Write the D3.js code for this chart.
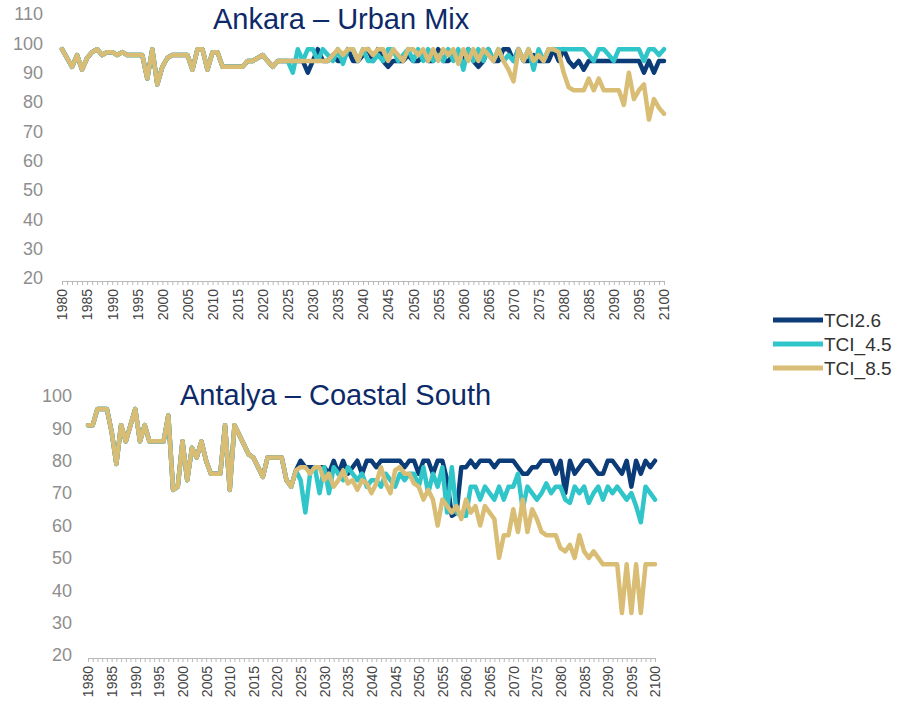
<!DOCTYPE html>
<html>
<head>
<meta charset="utf-8">
<script src="https://cdn.jsdelivr.net/npm/d3@7"></script>
<style>
  body { margin: 0; background: #fff; }
  svg { display: block; font-family: "Liberation Sans", Arial, sans-serif; }
</style>
</head>
<body>
<div id="chart"></div>
<script>
// years on the x axis
const startYear = 1980;
const endYear = 2100;
const yearTicks = d3.range(startYear, endYear + 1);

const seriesNames = ["TCI2.6", "TCI_4.5", "TCI_8.5"];
const seriesColors = ["#0c3c78", "#2fc5c9", "#d9bd74"];

// Ankara: observed part shared by all scenarios (1980-2024)
const ankaraHist = [98, 95, 92, 96, 91, 95, 97, 98, 96, 97, 97, 96, 97, 96, 96,
  96, 96, 88, 98, 86, 92, 95, 96, 96, 96, 96, 91, 98, 98, 91,
  97, 97, 92, 92, 92, 92, 92, 94, 94, 95, 96, 94, 92, 94, 94];
// Ankara scenarios 2025-2100
const ankara26 = [94, 94, 94, 94, 90, 94, 98, 94, 94, 96, 94, 94, 98, 94, 94,
  96, 98, 94, 98, 94, 92, 94, 94, 94, 96, 94, 94, 96, 94, 94,
  98, 94, 94, 96, 94, 94, 98, 94, 92, 94, 98, 94, 94, 98, 98,
  94, 98, 94, 94, 96, 94, 94, 94, 98, 94, 98, 94, 92, 94, 91,
  94, 94, 94, 94, 94, 94, 94, 94, 94, 94, 94, 90, 94, 90, 94, 94];
const ankara45 = [94, 90, 98, 94, 98, 98, 94, 98, 96, 94, 98, 93, 98, 98, 94,
  98, 94, 94, 96, 94, 98, 98, 94, 96, 98, 94, 98, 94, 98, 94,
  96, 94, 98, 94, 98, 91, 98, 94, 98, 94, 98, 94, 98, 94, 96,
  94, 98, 94, 98, 91, 98, 94, 98, 98, 98, 98, 98, 98, 98, 98,
  96, 94, 98, 98, 96, 94, 98, 98, 98, 98, 98, 94, 98, 98, 96, 98];
const ankara85 = [94, 94, 94, 94, 94, 94, 94, 94, 94, 96, 98, 96, 98, 98, 94,
  98, 98, 96, 98, 98, 94, 98, 96, 94, 98, 98, 96, 98, 94, 98,
  94, 98, 96, 98, 93, 98, 94, 98, 94, 98, 96, 94, 98, 94, 91,
  87, 98, 94, 98, 94, 96, 94, 98, 98, 97, 90, 85, 84, 84, 84,
  88, 84, 88, 84, 84, 84, 84, 79, 90, 81, 84, 86, 74, 81, 78, 76];

// Antalya: observed part shared by all scenarios (1980-2024)
const antalyaHist = [91, 91, 96, 96, 96, 89, 79, 91, 86, 91, 96, 86, 91, 86, 86,
  86, 86, 94, 71, 72, 86, 74, 84, 81, 86, 80, 76, 76, 76, 91,
  71, 91, 88, 85, 82, 81, 78, 75, 81, 81, 81, 81, 74, 72, 77];
// Antalya scenarios 2025-2100
const antalya26 = [80, 78, 78, 78, 78, 78, 76, 80, 76, 80, 76, 78, 80, 76, 80,
  80, 78, 80, 80, 80, 80, 80, 78, 80, 80, 76, 80, 80, 76, 80,
  80, 74, 63, 64, 78, 78, 80, 78, 80, 80, 80, 78, 80, 80, 80,
  80, 78, 76, 76, 78, 78, 80, 80, 80, 76, 80, 70, 80, 76, 78,
  80, 80, 78, 76, 76, 80, 80, 78, 76, 80, 72, 80, 76, 80, 78, 80];
const antalya45 = [74, 64, 76, 78, 70, 78, 70, 78, 76, 74, 78, 76, 74, 76, 72,
  74, 74, 72, 76, 74, 72, 76, 74, 76, 76, 72, 78, 70, 76, 72,
  78, 64, 78, 64, 63, 63, 72, 72, 68, 72, 70, 68, 72, 68, 72,
  72, 76, 65, 72, 70, 68, 70, 73, 70, 72, 72, 68, 67, 72, 70,
  72, 67, 70, 72, 68, 72, 70, 72, 70, 68, 70, 66, 61, 72, 70, 68];
const antalya85 = [78, 78, 76, 78, 78, 74, 76, 72, 74, 77, 73, 74, 71, 74, 73,
  70, 73, 78, 73, 70, 77, 78, 76, 76, 73, 72, 68, 71, 68, 60,
  68, 66, 64, 66, 62, 68, 64, 66, 60, 66, 64, 62, 50, 57, 57,
  65, 58, 68, 58, 65, 62, 58, 57, 57, 57, 53, 52, 54, 50, 57,
  52, 50, 52, 50, 48, 48, 48, 48, 33, 48, 33, 48, 33, 48, 48, 48];

const yTicksTop = d3.range(20, 111, 10);
const yTicksBottom = d3.range(20, 101, 10);

const width = 903, height = 705;

const svg = d3.select("#chart").append("svg")
  .attr("width", width)
  .attr("height", height);

function drawPanel(p) {
  const x = d3.scaleLinear().domain([startYear, endYear]).range([p.left, p.right]);
  const y = d3.scaleLinear().domain([20, p.yMax]).range([p.bottom, p.top]);

  const g = svg.append("g");

  // y labels only, no axis line
  const yAxis = g.append("g")
    .attr("transform", "translate(" + p.yLabelX + ",0)")
    .call(d3.axisLeft(y).tickValues(p.yTicks).tickSize(0).tickPadding(0));
  yAxis.select(".domain").remove();
  yAxis.selectAll("text")
    .attr("fill", "#8e8e8e")
    .style("font-size", "18px")
    .style("font-family", "'Liberation Sans', Arial, sans-serif");

  // x axis with a tick every year, a label every 5 years
  const xAxis = g.append("g")
    .attr("transform", "translate(0," + (p.bottom + 3) + ")")
    .call(d3.axisBottom(x)
      .tickValues(yearTicks)
      .tickSize(4)
      .tickSizeOuter(0)
      .tickFormat(function(d) { return d % 5 === 0 ? d : ""; }));
  xAxis.select(".domain").attr("stroke", "#b9b9b9");
  xAxis.selectAll(".tick line").attr("stroke", "#b9b9b9");
  xAxis.selectAll("text")
    .attr("transform", "rotate(-90)")
    .attr("x", -8)
    .attr("y", 0)
    .attr("dy", "0.35em")
    .attr("text-anchor", "end")
    .attr("fill", "#444")
    .style("font-size", "14px")
    .style("font-family", "'Liberation Sans', Arial, sans-serif");

  const line = d3.line()
    .x(function(d) { return x(d.year); })
    .y(function(d) { return y(d.value); });

  p.series.forEach(function(future, i) {
    const values = p.hist.concat(future).map(function(v, k) {
      return { year: startYear + k, value: v };
    });
    g.append("path")
      .datum(values)
      .attr("fill", "none")
      .attr("stroke", seriesColors[i])
      .attr("stroke-width", 4.5)
      .attr("stroke-linejoin", "round")
      .attr("stroke-linecap", "round")
      .attr("d", line);
  });

  g.append("text")
    .attr("x", p.titleX)
    .attr("y", p.titleY)
    .attr("fill", "#0d2a68")
    .style("font-size", "29px")
    .text(p.title);
}

drawPanel({
  title: "Ankara \u2013 Urban Mix",
  titleX: 213, titleY: 29,
  left: 62, right: 664, top: 14, bottom: 278,
  yMax: 110, yTicks: yTicksTop, yLabelX: 43,
  hist: ankaraHist,
  series: [ankara26, ankara45, ankara85]
});

drawPanel({
  title: "Antalya \u2013 Coastal South",
  titleX: 180, titleY: 405,
  left: 88, right: 655, top: 396, bottom: 655,
  yMax: 100, yTicks: yTicksBottom, yLabelX: 72,
  hist: antalyaHist,
  series: [antalya26, antalya45, antalya85]
});

// legend
const legend = svg.append("g").attr("transform", "translate(773,320)");
seriesNames.forEach(function(name, i) {
  const row = legend.append("g").attr("transform", "translate(0," + (i * 24) + ")");
  row.append("line")
    .attr("x1", 0).attr("x2", 50)
    .attr("stroke", seriesColors[i])
    .attr("stroke-width", 5);
  row.append("text")
    .attr("x", 51)
    .attr("dy", "0.36em")
    .attr("fill", "#333")
    .style("font-size", "19px")
    .text(name);
});
</script>
</body>
</html>
